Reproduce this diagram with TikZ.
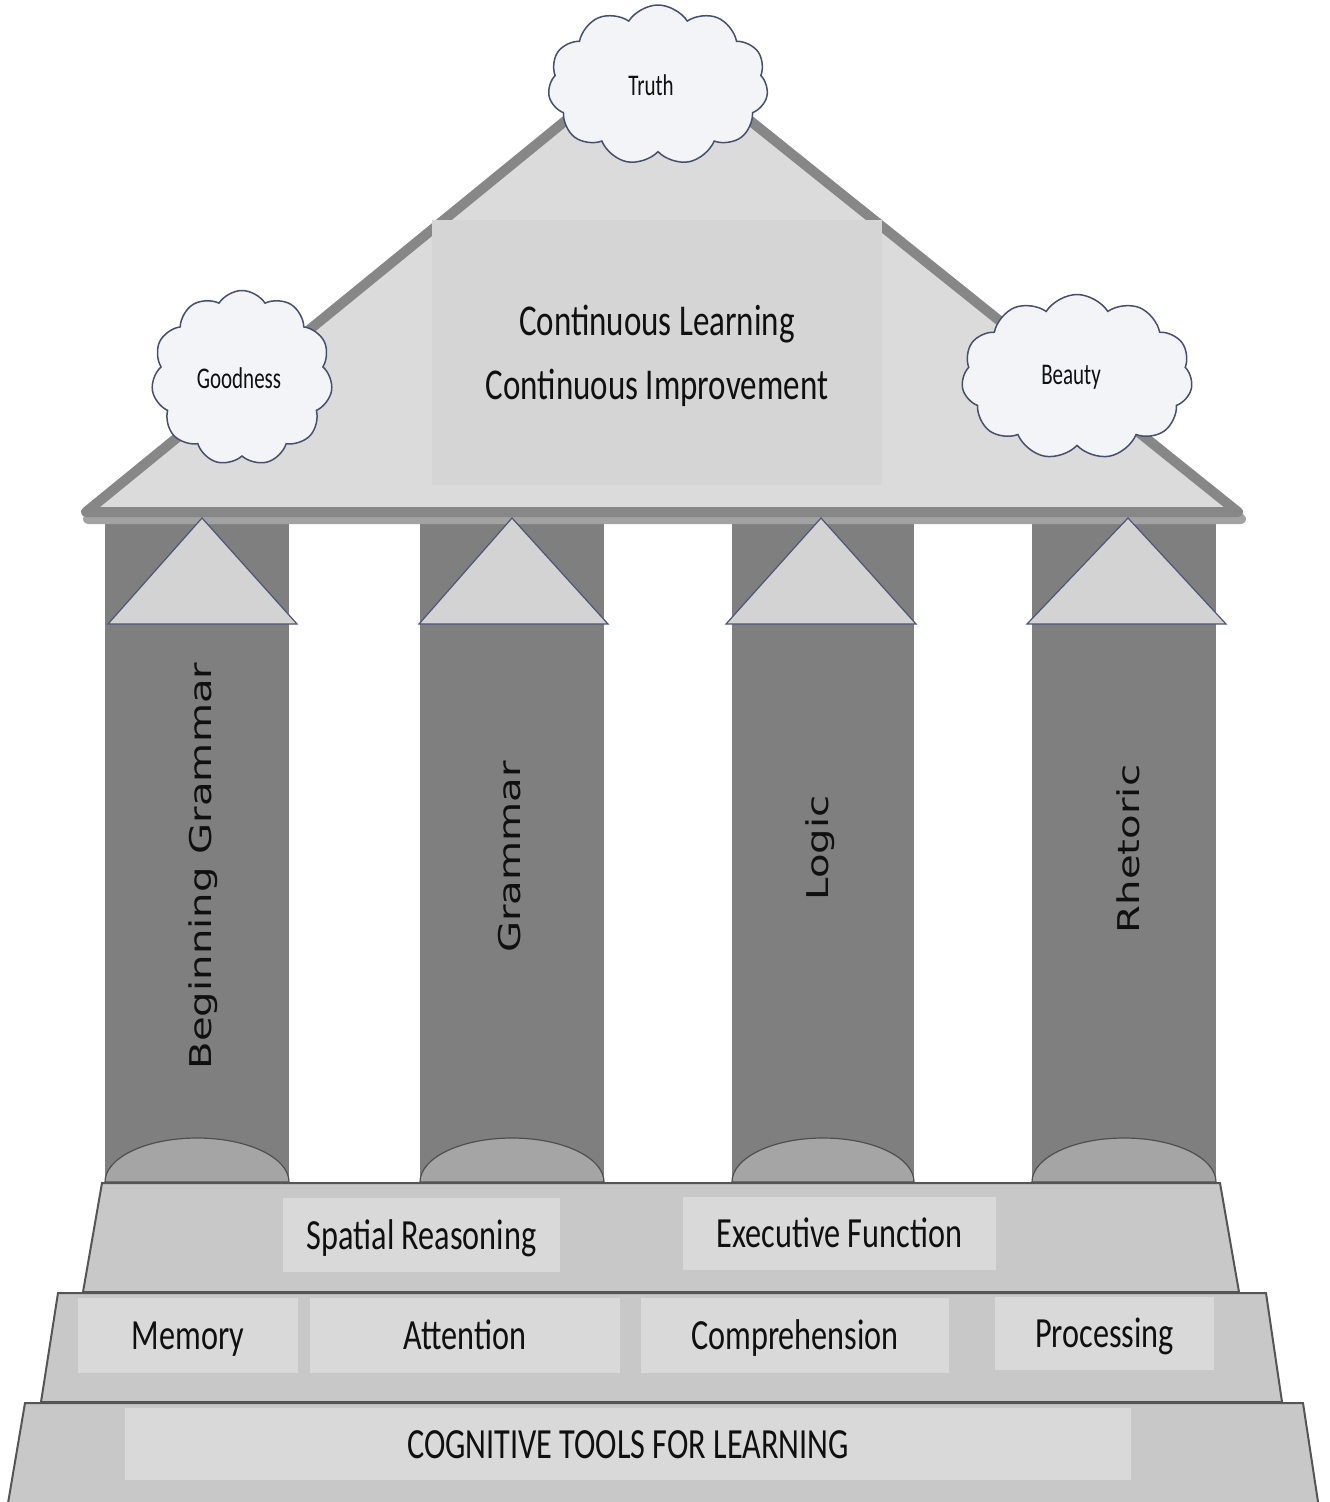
\documentclass[tikz,border=0pt]{standalone}
\usepackage{fontspec}
\usepackage{graphicx}
\setmainfont{Carlito}
\newfontfamily\pillarfont{DejaVu Sans}
\usetikzlibrary{shapes.symbols}
\definecolor{pillargray}{HTML}{7F7F7F}
\definecolor{roofedge}{HTML}{878787}
\definecolor{roofshadow}{HTML}{A2A2A2}
\definecolor{rooffill}{HTML}{DBDBDB}
\definecolor{centerfill}{HTML}{D5D5D5}
\definecolor{trifill}{HTML}{D3D3D3}
\definecolor{triedge}{HTML}{4E5575}
\definecolor{basefill}{HTML}{A5A5A5}
\definecolor{baseedge}{HTML}{4F4F4F}
\definecolor{tierfill}{HTML}{C8C8C8}
\definecolor{tieredge}{HTML}{555555}
\definecolor{boxfill}{HTML}{D9D9D9}
\definecolor{cloudfill}{HTML}{F3F4F7}
\definecolor{cloudedge}{HTML}{46506D}
\definecolor{textblack}{HTML}{101010}
\newcommand{\sqz}[1]{\scalebox{0.75}[1]{#1}}
\newcommand{\csqz}[1]{\scalebox{0.7}[1]{#1}}
\newcommand{\strch}[1]{\scalebox{1.34}[1]{#1}}
\begin{document}
\begin{tikzpicture}[x=1pt,y=-1pt,
  pillarbox/.style={fill=pillargray,draw=none},
  captri/.style={fill=trifill,draw=triedge,line width=1.2pt,line join=miter},
  baseell/.style={fill=basefill,draw=baseedge,line width=1.2pt},
  tier/.style={fill=tierfill,draw=tieredge,line width=2pt,line join=miter},
  labelbox/.style={fill=boxfill,draw=none,inner sep=0pt,text=textblack,
    text height=28pt,text depth=0pt,font=\fontsize{43}{50}\selectfont},
  cloudnode/.style={cloud,cloud puffs=11,cloud puff arc=115,cloud ignores aspect,
    fill=cloudfill,draw=cloudedge,line width=1.5pt,inner sep=0pt,text=textblack,
    font=\fontsize{30}{34}\selectfont},
  pillartext/.style={rotate=90,text=textblack,font=\pillarfont\fontsize{30}{34}\selectfont},
  roofline/.style={line width=10pt,line join=round}
]
\useasboundingbox (0,0) rectangle (1330,1502);
\clip (0,0) rectangle (1330,1502);

% pillars
\fill[pillarbox] (105,515) rectangle (289,1183);
\fill[pillarbox] (420,515) rectangle (604,1183);
\fill[pillarbox] (732,515) rectangle (914,1183);
\fill[pillarbox] (1032,515) rectangle (1216,1183);

% roof
\draw[roofline,draw=roofshadow,fill=roofshadow] (88,519) -- (659,52) -- (1241,519) -- cycle;
\draw[roofline,draw=roofedge,fill=rooffill] (86,512) -- (657,46) -- (1238,512) -- cycle;
\node[fill=centerfill,minimum width=450pt,minimum height=265pt,inner sep=0pt,
  align=center,text=textblack,text depth=0pt,font=\fontsize{44}{64}\selectfont] (center) at (657,352.5)
  {\sqz{Continuous Learning}\\\sqz{Continuous Improvement}};

% clouds
\node[cloudnode,minimum width=220pt,minimum height=160pt] (truth) at (658,85) {\csqz{Truth}\hspace*{14pt}};
\node[cloudnode,minimum width=181pt,minimum height=175pt] (goodness) at (242,378) {\csqz{Goodness}\hspace*{6pt}};
\node[cloudnode,minimum width=231pt,minimum height=165pt] (beauty) at (1077,377) {\csqz{Beauty}\hspace*{12pt}};

% pillar capitals
\draw[captri] (108,624) -- (202,518) -- (297,624) -- cycle;
\draw[captri] (419,624) -- (512,518) -- (608,624) -- cycle;
\draw[captri] (726,624) -- (821,518) -- (916,624) -- cycle;
\draw[captri] (1027,624) -- (1128,518) -- (1226,624) -- cycle;

% pillar bases
\draw[baseell] (105,1182) .. controls (105,1157.7) and (146.2,1138) .. (197,1138)
  .. controls (247.8,1138) and (289,1157.7) .. (289,1182) -- cycle;
\draw[baseell] (420,1182) .. controls (420,1157.7) and (461.2,1138) .. (512,1138)
  .. controls (562.8,1138) and (604,1157.7) .. (604,1182) -- cycle;
\draw[baseell] (732,1182) .. controls (732,1157.7) and (772.7,1138) .. (823,1138)
  .. controls (873.3,1138) and (914,1157.7) .. (914,1182) -- cycle;
\draw[baseell] (1032,1182) .. controls (1032,1157.7) and (1073.2,1138) .. (1124,1138)
  .. controls (1174.8,1138) and (1216,1157.7) .. (1216,1182) -- cycle;

% pillar texts
\node[pillartext] (begram) at (203,866) {\strch{Beginning Grammar}};
\node[pillartext] (gram) at (510,857) {\strch{Grammar}};
\node[pillartext] (logic) at (820,848) {\strch{Logic}};
\node[pillartext] (rhet) at (1128,849) {\strch{Rhetoric}};

% steps
\draw[tier] (25,1403) -- (1303,1403) -- (1320,1515) -- (6,1515) -- cycle;
\draw[tier] (58,1293) -- (1266,1293) -- (1282,1402) -- (41,1402) -- cycle;
\draw[tier] (102,1183) -- (1220,1183) -- (1239,1292) -- (83,1292) -- cycle;

% step labels
\node[labelbox,minimum width=277pt,minimum height=74pt] (spatial) at (421.5,1235) {\sqz{Spatial Reasoning}};
\node[labelbox,minimum width=313pt,minimum height=73pt] (exec) at (839.5,1233.5) {\sqz{Executive Function}};
\node[labelbox,minimum width=220pt,minimum height=75pt] (memory) at (188,1335.5) {\sqz{Memory}};
\node[labelbox,minimum width=310pt,minimum height=75pt] (attention) at (465,1335.5) {\sqz{Attention}};
\node[labelbox,minimum width=308pt,minimum height=75pt] (compre) at (795,1335.5) {\sqz{Comprehension}};
\node[labelbox,minimum width=219pt,minimum height=73pt] (process) at (1104.5,1333.5) {\sqz{Processing}};
\node[labelbox,minimum width=1006pt,minimum height=72pt] (cogtools) at (628,1444) {\sqz{COGNITIVE TOOLS FOR LEARNING}};
\end{tikzpicture}
\end{document}
